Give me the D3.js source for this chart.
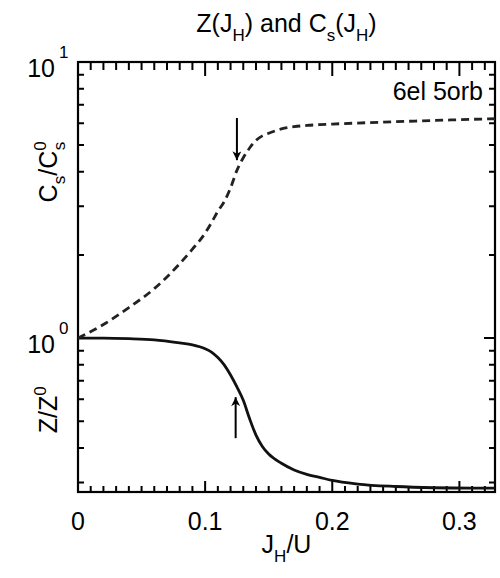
<!DOCTYPE html>
<html><head><meta charset="utf-8">
<script src="https://cdn.jsdelivr.net/npm/d3@7"></script>
<style>
body{margin:0;background:#fff}
svg{display:block}
text{font-family:"Liberation Sans",Arial,Helvetica,sans-serif;fill:#000}
</style>
</head><body>
<svg id="chart" width="500" height="578"></svg>
<script>
// ---- data ----
const jh = [0, 0.02, 0.04, 0.06, 0.08, 0.09, 0.1, 0.105, 0.11, 0.115, 0.12, 0.125, 0.13, 0.135, 0.14, 0.145, 0.15, 0.16, 0.17, 0.18, 0.19, 0.2, 0.22, 0.25, 0.28, 0.31, 0.328];
const zRatio = [1.0, 1.0, 0.995, 0.985, 0.96, 0.945, 0.915, 0.89, 0.85, 0.80, 0.735, 0.665, 0.595, 0.51, 0.445, 0.405, 0.38, 0.352, 0.333, 0.321, 0.313, 0.305, 0.296, 0.29, 0.287, 0.286, 0.286];
const csRatio = [1.0, 1.12, 1.29, 1.51, 1.86, 2.1, 2.4, 2.62, 2.88, 3.12, 3.5, 4.05, 4.5, 4.88, 5.2, 5.4, 5.52, 5.72, 5.83, 5.89, 5.93, 5.96, 6.01, 6.08, 6.14, 6.2, 6.23];
const xMajorTicks = [0, 0.1, 0.2, 0.3];
const xTickLabels = ["0", "0.1", "0.2", "0.3"];
const xMinorTicks = [0.01,0.02,0.03,0.04,0.05,0.06,0.07,0.08,0.09,0.11,0.12,0.13,0.14,0.15,0.16,0.17,0.18,0.19,0.21,0.22,0.23,0.24,0.25,0.26,0.27,0.28,0.29,0.31,0.32];
const yMajorTicks = [1, 10];
const yTickExponents = ["0", "1"];
const yMinorTicks = [0.3, 0.4, 0.5, 0.6, 0.7, 0.8, 0.9, 2, 3, 4, 5, 6, 7, 8, 9];
const arrowJ = [0.125, 0.124];
const arrowDownY = [6.27, 4.41];   // from, to (tip)
const arrowUpY = [0.434, 0.611];   // from, to (tip)
const annotation = "6el 5orb";

// ---- layout ----
const W = 500, H = 578;
const m = {left: 78, right: 5, top: 62, bottom: 86};
const svg = d3.select("#chart");
const xs = d3.scaleLinear().domain([0, 0.328]).range([m.left, W - m.right]);
const ys = d3.scaleLog().domain([0.277, 10]).range([H - m.bottom, m.top]);
const pw = W - m.right - m.left, ph = H - m.bottom - m.top;
const FS = 25, SFS = 17;
const L = m.left, R = W - m.right, B = H - m.bottom, T = m.top;

const defs = svg.append("defs");
defs.append("marker").attr("id", "ah").attr("viewBox", "0 0 10 10")
  .attr("refX", 10).attr("refY", 5).attr("markerWidth", 14).attr("markerHeight", 9)
  .attr("markerUnits", "userSpaceOnUse").attr("orient", "auto")
  .append("path").attr("d", "M0,0 L10,5 L0,10 L3,5 Z").attr("fill", "#000");

// frame
svg.append("rect").attr("x", L).attr("y", T).attr("width", pw).attr("height", ph)
  .attr("fill", "none").attr("stroke", "#000").attr("stroke-width", 2.2);

// ticks inward on all four sides: [bottom, top] lengths for x; [left, right] for y
function xTickPath(vals, lenB, lenT) {
  const d = vals.map(v => `M${xs(v)},${B}L${xs(v)},${B - lenB}M${xs(v)},${T}L${xs(v)},${T + lenT}`).join("");
  svg.append("path").attr("d", d).attr("fill", "none").attr("stroke", "#000").attr("stroke-width", 2);
}
function yTickPath(vals, lenL, lenR) {
  const d = vals.map(v => `M${L},${ys(v)}L${L + lenL},${ys(v)}M${R},${ys(v)}L${R - lenR},${ys(v)}`).join("");
  svg.append("path").attr("d", d).attr("fill", "none").attr("stroke", "#000").attr("stroke-width", 2);
}
xTickPath(xMinorTicks, 6, 8);
xTickPath(xMajorTicks, 11, 14);
yTickPath(yMinorTicks, 6, 6);
yTickPath(yMajorTicks, 11, 11);

// curves
const lineGen = d3.line().x(d => xs(d[0])).y(d => ys(d[1])).curve(d3.curveMonotoneX);
svg.append("path").datum(jh.map((j, i) => [j, zRatio[i]]))
  .attr("d", lineGen).attr("fill", "none").attr("stroke", "#111").attr("stroke-width", 2.8);
svg.append("path").datum(jh.map((j, i) => [j, csRatio[i]]))
  .attr("d", lineGen).attr("fill", "none").attr("stroke", "#222").attr("stroke-width", 2.8)
  .attr("stroke-dasharray", "8,5");

// arrows
svg.append("line").attr("x1", xs(arrowJ[0])).attr("x2", xs(arrowJ[0]))
  .attr("y1", ys(arrowDownY[0])).attr("y2", ys(arrowDownY[1]))
  .attr("stroke", "#000").attr("stroke-width", 2).attr("marker-end", "url(#ah)");
svg.append("line").attr("x1", xs(arrowJ[1])).attr("x2", xs(arrowJ[1]))
  .attr("y1", ys(arrowUpY[0])).attr("y2", ys(arrowUpY[1]))
  .attr("stroke", "#000").attr("stroke-width", 2).attr("marker-end", "url(#ah)");

// x tick labels
svg.append("g").selectAll("text").data(xMajorTicks).join("text")
  .attr("x", d => xs(d)).attr("y", B + 38).attr("text-anchor", "middle")
  .attr("font-size", FS).text((d, i) => xTickLabels[i]);

// y tick labels 10^n
yMajorTicks.forEach((v, i) => {
  svg.append("text").attr("x", L - 23).attr("y", ys(v) + 15)
    .attr("text-anchor", "end").attr("font-size", FS).text("10");
  svg.append("text").attr("x", L - 19).attr("y", ys(v) - 4)
    .attr("font-size", SFS).text(yTickExponents[i]);
});

// title
const title = svg.append("text").attr("x", (L + R) / 2).attr("y", 32)
  .attr("text-anchor", "middle").attr("font-size", FS);
title.append("tspan").text("Z(J");
title.append("tspan").attr("font-size", SFS).attr("dy", 9).text("H");
title.append("tspan").attr("dy", -9).text(") and C");
title.append("tspan").attr("font-size", SFS).attr("dy", 9).text("s");
title.append("tspan").attr("dy", -9).text("(J");
title.append("tspan").attr("font-size", SFS).attr("dy", 9).text("H");
title.append("tspan").attr("dy", -9).text(")");

// x axis label
const xl = svg.append("text").attr("x", (L + R) / 2).attr("y", 553)
  .attr("text-anchor", "middle").attr("font-size", FS);
xl.append("tspan").text("J");
xl.append("tspan").attr("font-size", SFS).attr("dy", 9).text("H");
xl.append("tspan").attr("dy", -9).text("/U");

// y axis labels (rotated)
const yl1 = svg.append("text").attr("transform", `translate(57,${ys(4.0)}) rotate(-90)`)
  .attr("text-anchor", "middle").attr("font-size", FS);
yl1.append("tspan").text("C");
yl1.append("tspan").attr("font-size", SFS).attr("dy", 8).text("s");
yl1.append("tspan").attr("dy", -8).text("/C");
yl1.append("tspan").attr("font-size", SFS).attr("dy", -11).text("0");
yl1.append("tspan").attr("font-size", SFS).attr("dx", -9).attr("dy", 19).text("s");

const yl2 = svg.append("text").attr("transform", `translate(57,${ys(0.55)}) rotate(-90)`)
  .attr("text-anchor", "middle").attr("font-size", FS);
yl2.append("tspan").text("Z/Z");
yl2.append("tspan").attr("font-size", SFS).attr("dy", -11).text("0");

// annotation
svg.append("text").attr("x", R - 12).attr("y", 100)
  .attr("text-anchor", "end").attr("font-size", FS).text(annotation);
</script>
</body></html>
